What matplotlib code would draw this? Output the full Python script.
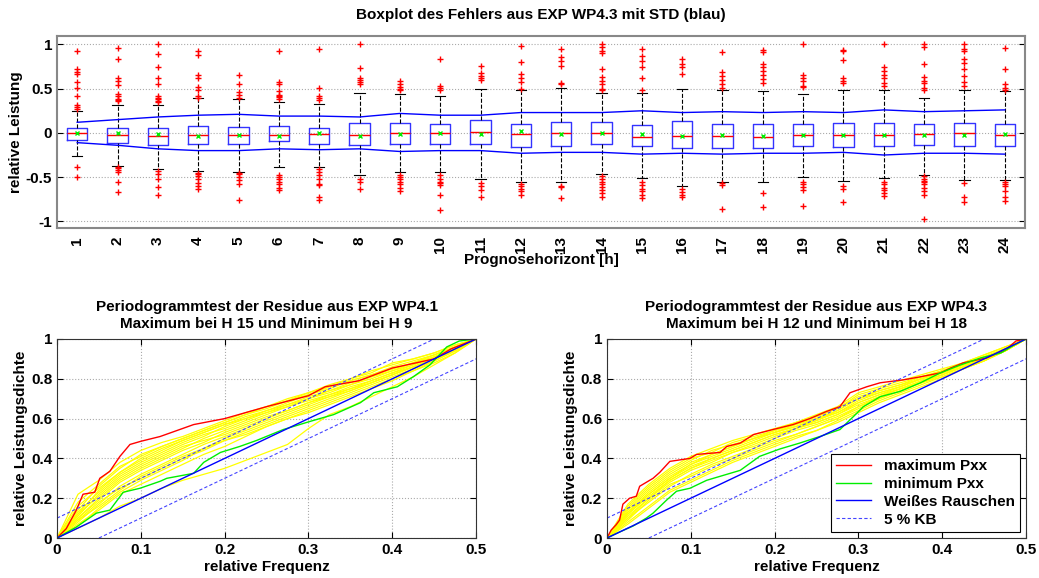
import numpy as np
import matplotlib
matplotlib.use('Agg')
import matplotlib.pyplot as plt
from matplotlib.ticker import FuncFormatter

plt.rcParams['font.family'] = ['Liberation Sans', 'DejaVu Sans']
plt.rcParams['font.weight'] = 'bold'
plt.rcParams['axes.labelweight'] = 'bold'
plt.rcParams['axes.titleweight'] = 'bold'

# ---- boxplot data (relative error per forecast hour) ----
hours = list(range(1, 25))
q1 = [-0.08, -0.11, -0.14, -0.13, -0.13, -0.09, -0.12, -0.14, -0.12, -0.12, -0.12, -0.16,
      -0.15, -0.13, -0.15, -0.17, -0.17, -0.17, -0.15, -0.16, -0.15, -0.14, -0.15, -0.15]
med = [0.00, -0.02, -0.03, -0.02, -0.02, -0.02, -0.01, -0.02, 0.00, 0.00, 0.01, -0.01,
       0.00, 0.00, -0.05, -0.03, -0.03, -0.05, -0.02, -0.02, -0.02, -0.01, 0.00, -0.02]
q3 = [0.05, 0.06, 0.05, 0.08, 0.07, 0.08, 0.06, 0.11, 0.11, 0.10, 0.15, 0.10,
      0.12, 0.12, 0.09, 0.14, 0.10, 0.10, 0.10, 0.11, 0.11, 0.10, 0.11, 0.10]
mean = [0.00, 0.00, -0.01, -0.03, -0.02, -0.03, 0.00, -0.03, -0.01, 0.00, -0.01, 0.02,
        -0.01, 0.00, -0.01, -0.03, -0.02, -0.03, -0.02, -0.02, -0.02, -0.02, -0.02, -0.01]
whis_hi = [0.25, 0.31, 0.32, 0.39, 0.38, 0.35, 0.33, 0.45, 0.44, 0.42, 0.50, 0.49,
           0.51, 0.45, 0.45, 0.50, 0.48, 0.47, 0.44, 0.49, 0.48, 0.39, 0.48, 0.47]
whis_lo = [-0.26, -0.37, -0.41, -0.43, -0.44, -0.38, -0.39, -0.48, -0.44, -0.44, -0.52, -0.55,
           -0.55, -0.47, -0.51, -0.60, -0.55, -0.56, -0.50, -0.54, -0.51, -0.48, -0.53, -0.53]
outliers = [
    [0.93, 0.72, 0.69, 0.67, 0.58, 0.51, 0.42, 0.31, 0.29, 0.27, -0.39, -0.50],
    [0.96, 0.83, 0.62, 0.59, 0.54, 0.44, 0.42, 0.38, 0.37, 0.36, -0.38, -0.40, -0.42, -0.44, -0.55, -0.67],
    [1.00, 0.89, 0.74, 0.62, 0.55, 0.42, 0.40, 0.38, 0.36, 0.35, -0.43, -0.47, -0.52, -0.61, -0.70],
    [0.93, 0.88, 0.65, 0.62, 0.52, 0.48, 0.42, 0.40, -0.45, -0.47, -0.49, -0.52, -0.57, -0.60, -0.63],
    [0.66, 0.55, 0.46, 0.43, 0.40, -0.45, -0.47, -0.50, -0.53, -0.58, -0.76],
    [0.93, 0.58, 0.55, 0.47, 0.43, 0.42, 0.41, 0.38, -0.48, -0.50, -0.52, -0.55, -0.58, -0.62, -0.65],
    [0.95, 0.51, 0.42, 0.39, 0.37, -0.41, -0.44, -0.48, -0.52, -0.58, -0.59, -0.73, -0.76],
    [1.00, 0.73, 0.62, 0.60, 0.58, 0.55, -0.52, -0.56, -0.63],
    [0.59, 0.55, 0.52, 0.50, 0.48, -0.48, -0.50, -0.52, -0.55, -0.58, -0.62, -0.66],
    [0.84, 0.53, 0.51, 0.49, -0.48, -0.52, -0.55, -0.57, -0.59, -0.70, -0.87],
    [0.76, 0.68, 0.64, 0.62, 0.60, -0.57, -0.60, -0.64, -0.72],
    [0.98, 0.80, 0.67, 0.62, 0.58, 0.50, -0.58, -0.60, -0.63, -0.66, -0.70],
    [0.95, 0.86, 0.81, 0.76, 0.56, 0.55, -0.60, -0.61, -0.74],
    [1.00, 0.97, 0.93, 0.90, 0.72, 0.63, 0.59, 0.55, 0.50, 0.49, -0.49, -0.52, -0.55, -0.58, -0.61, -0.64, -0.68, -0.72],
    [0.95, 0.87, 0.81, 0.74, 0.62, 0.48, -0.56, -0.59, -0.63, -0.66, -0.70, -0.74],
    [0.83, 0.78, 0.75, 0.67, -0.63, -0.67, -0.70, -0.73],
    [0.91, 0.69, 0.64, 0.60, 0.55, 0.51, -0.57, -0.59, -0.86],
    [0.94, 0.91, 0.78, 0.74, 0.70, 0.65, 0.61, 0.56, -0.68, -0.84],
    [1.00, 0.65, 0.62, 0.59, 0.53, 0.52, -0.55, -0.58, -0.61, -0.64, -0.83],
    [0.94, 0.92, 0.82, 0.62, 0.59, 0.56, -0.60, -0.63, -0.78],
    [1.00, 0.74, 0.70, 0.66, 0.62, 0.56, 0.53, -0.56, -0.58, -0.62, -0.65, -0.68, -0.71],
    [1.00, 0.97, 0.78, 0.63, 0.59, 0.56, 0.51, 0.49, -0.49, -0.52, -0.54, -0.56, -0.58, -0.62, -0.66, -0.70, -0.97],
    [1.00, 0.95, 0.92, 0.84, 0.79, 0.72, 0.64, 0.58, 0.53, -0.57, -0.72, -0.78],
    [0.96, 0.72, 0.55, 0.51, 0.49, -0.55, -0.58, -0.60, -0.66, -0.72, -0.77],
]
std_up = [0.12, 0.15, 0.18, 0.20, 0.21, 0.19, 0.19, 0.18, 0.22, 0.20, 0.20, 0.23,
          0.23, 0.23, 0.25, 0.23, 0.24, 0.23, 0.24, 0.23, 0.26, 0.24, 0.25, 0.26]
std_lo = [-0.11, -0.14, -0.18, -0.20, -0.20, -0.18, -0.19, -0.18, -0.21, -0.20, -0.20, -0.23,
          -0.22, -0.22, -0.24, -0.23, -0.24, -0.23, -0.23, -0.22, -0.25, -0.23, -0.23, -0.24]

# ---- periodogram data ----
# left panel (EXP WP4.1)
l_max_x = [0, 0.011, 0.023, 0.031, 0.045, 0.051, 0.063, 0.075, 0.087, 0.1, 0.123, 0.163, 0.2,
           0.25, 0.3, 0.32, 0.36, 0.4, 0.45, 0.47, 0.5]
l_max_y = [0, 0.047, 0.14, 0.22, 0.23, 0.30, 0.335, 0.41, 0.47, 0.486, 0.51, 0.57, 0.60,
           0.66, 0.715, 0.76, 0.79, 0.854, 0.90, 0.95, 1.0]
l_min_x = [0, 0.023, 0.047, 0.063, 0.079, 0.099, 0.123, 0.131, 0.163, 0.175, 0.195, 0.218, 0.238,
           0.27, 0.302, 0.33, 0.362, 0.378, 0.406, 0.425, 0.445, 0.465, 0.48, 0.5]
l_min_y = [0, 0.055, 0.125, 0.14, 0.23, 0.25, 0.285, 0.30, 0.325, 0.38, 0.43, 0.46, 0.49,
           0.545, 0.586, 0.62, 0.68, 0.73, 0.76, 0.81, 0.87, 0.96, 0.99, 1.0]
# right panel (EXP WP4.3)
r_max_x = [0, 0.005, 0.011, 0.015, 0.019, 0.027, 0.035, 0.039, 0.055, 0.063, 0.075, 0.099, 0.107,
           0.135, 0.143, 0.159, 0.175, 0.198, 0.222, 0.242, 0.262, 0.278, 0.29, 0.31, 0.326,
           0.354, 0.374, 0.398, 0.41, 0.425, 0.453, 0.476, 0.488, 0.5]
r_max_y = [0, 0.04, 0.067, 0.09, 0.17, 0.20, 0.21, 0.26, 0.30, 0.33, 0.385, 0.40, 0.42,
           0.43, 0.46, 0.477, 0.52, 0.545, 0.57, 0.60, 0.636, 0.66, 0.73, 0.76, 0.78,
           0.795, 0.81, 0.83, 0.854, 0.88, 0.905, 0.946, 0.99, 1.0]
r_min_x = [0, 0.015, 0.031, 0.047, 0.055, 0.071, 0.083, 0.099, 0.119, 0.143, 0.159, 0.182, 0.206,
           0.23, 0.254, 0.278, 0.294, 0.306, 0.326, 0.35, 0.374, 0.398, 0.422, 0.446, 0.47,
           0.486, 0.5]
r_min_y = [0, 0.03, 0.06, 0.10, 0.125, 0.19, 0.235, 0.25, 0.29, 0.32, 0.34, 0.41, 0.447,
           0.477, 0.51, 0.545, 0.61, 0.66, 0.71, 0.737, 0.78, 0.83, 0.87, 0.905, 0.93,
           0.97, 1.0]

freq = [0, 0.025, 0.05, 0.075, 0.1, 0.125, 0.15, 0.175, 0.2, 0.225, 0.25,
        0.275, 0.3, 0.325, 0.35, 0.375, 0.4, 0.425, 0.45, 0.475, 0.5]
l_yellow = [
    [0, .12, .24, .33, .39, .44, .49, .53, .57, .61, .64, .67, .70, .74, .77, .80, .84, .87, .91, .95, 1],
    [0, .10, .20, .29, .35, .40, .45, .50, .54, .58, .62, .66, .69, .72, .76, .79, .83, .86, .90, .95, 1],
    [0, .14, .26, .35, .42, .46, .50, .54, .58, .62, .65, .69, .72, .75, .79, .82, .86, .89, .92, .96, 1],
    [0, .08, .17, .26, .32, .37, .42, .47, .51, .55, .59, .63, .67, .71, .74, .78, .82, .86, .90, .95, 1],
    [0, .09, .18, .25, .30, .35, .40, .44, .49, .53, .57, .61, .65, .69, .73, .77, .81, .85, .89, .94, 1],
    [0, .22, .29, .38, .44, .48, .51, .55, .59, .63, .66, .69, .73, .77, .80, .83, .88, .90, .93, .97, 1],
    [0, .11, .22, .31, .37, .42, .47, .51, .56, .60, .63, .66, .70, .73, .77, .81, .84, .88, .92, .96, 1],
    [0, .07, .14, .22, .27, .32, .37, .42, .46, .51, .56, .60, .64, .68, .72, .76, .80, .84, .89, .94, 1],
    [0, .05, .10, .16, .20, .25, .29, .32, .35, .39, .43, .47, .55, .62, .66, .71, .76, .81, .87, .93, 1],
    [0, .13, .23, .32, .38, .43, .48, .52, .55, .59, .63, .67, .71, .74, .78, .81, .85, .88, .91, .95, 1],
    [0, .16, .25, .33, .40, .45, .49, .53, .57, .60, .64, .68, .72, .76, .79, .82, .85, .88, .92, .96, 1],
    [0, .10, .19, .28, .34, .39, .44, .48, .53, .57, .61, .64, .68, .72, .75, .79, .83, .87, .91, .95, 1],
    [0, .12, .21, .30, .36, .41, .46, .49, .52, .56, .60, .64, .68, .71, .75, .78, .82, .86, .90, .95, 1],
    [0, .09, .16, .24, .31, .36, .41, .45, .50, .54, .58, .62, .66, .70, .74, .78, .82, .86, .90, .94, 1],
    [0, .18, .27, .36, .41, .46, .50, .54, .58, .62, .66, .70, .73, .76, .80, .84, .87, .90, .93, .97, 1],
    [0, .06, .15, .23, .29, .34, .39, .45, .49, .52, .56, .60, .63, .67, .71, .75, .79, .84, .88, .93, 1],
]
r_yellow = [
    [0, .14, .24, .32, .38, .42, .46, .50, .53, .56, .60, .64, .70, .74, .77, .80, .83, .86, .90, .95, 1],
    [0, .12, .21, .29, .35, .40, .44, .48, .52, .55, .58, .62, .68, .72, .75, .79, .82, .86, .90, .94, 1],
    [0, .16, .26, .34, .40, .43, .48, .51, .54, .58, .61, .65, .72, .75, .78, .81, .84, .87, .91, .95, 1],
    [0, .10, .18, .26, .32, .37, .41, .45, .49, .52, .56, .60, .66, .70, .74, .78, .82, .86, .90, .94, 1],
    [0, .08, .16, .24, .29, .34, .39, .43, .47, .51, .54, .59, .64, .69, .73, .77, .81, .85, .89, .94, 1],
    [0, .13, .23, .31, .37, .41, .45, .49, .53, .57, .60, .63, .69, .73, .76, .80, .83, .87, .91, .95, 1],
    [0, .11, .20, .28, .34, .38, .43, .47, .51, .55, .58, .62, .67, .71, .75, .79, .83, .87, .90, .94, 1],
    [0, .15, .25, .33, .39, .44, .47, .50, .54, .57, .61, .65, .71, .74, .77, .81, .84, .87, .91, .95, 1],
    [0, .09, .19, .27, .31, .36, .40, .44, .48, .52, .56, .60, .65, .70, .74, .78, .82, .86, .90, .94, 1],
    [0, .12, .22, .30, .36, .40, .44, .48, .52, .55, .59, .63, .68, .72, .76, .80, .84, .87, .91, .95, 1],
    [0, .07, .15, .23, .28, .33, .38, .42, .46, .50, .54, .58, .63, .68, .72, .76, .80, .85, .89, .94, 1],
    [0, .17, .27, .35, .41, .45, .49, .52, .55, .58, .62, .66, .73, .76, .79, .82, .85, .88, .92, .96, 1],
    [0, .10, .20, .29, .35, .39, .43, .46, .50, .54, .57, .61, .66, .71, .75, .78, .81, .85, .89, .94, 1],
    [0, .13, .22, .30, .37, .42, .46, .50, .53, .56, .59, .64, .70, .73, .76, .80, .84, .88, .92, .96, 1],
]

titles = ['Periodogrammtest der Residue aus EXP WP4.1\nMaximum bei H 15 und Minimum bei H 9',
          'Periodogrammtest der Residue aus EXP WP4.3\nMaximum bei H 12 und Minimum bei H 18']

fig = plt.figure(figsize=(10.39, 5.78), dpi=100)

# ---------------- top: boxplot ----------------
ax = fig.add_axes([0.0549, 0.6055, 0.9316, 0.3322])
stats = []
for i in range(24):
    stats.append(dict(med=med[i], q1=q1[i], q3=q3[i], whislo=whis_lo[i], whishi=whis_hi[i],
                      fliers=outliers[i], mean=mean[i]))
ax.bxp(stats, positions=hours, widths=0.5, showmeans=True,
       boxprops=dict(color='#3333ff', linewidth=1),
       medianprops=dict(color='red', linewidth=1),
       whiskerprops=dict(color='black', linestyle='--', linewidth=0.8),
       capprops=dict(color='black', linewidth=0.8),
       flierprops=dict(marker='+', markeredgecolor='red', markersize=5, linestyle='none'),
       meanprops=dict(marker='x', markeredgecolor='#00ee00', markersize=3.5, linestyle='none'))
ax.plot(hours, std_up, color='blue', linewidth=1)
ax.plot(hours, std_lo, color='blue', linewidth=1)
ax.set_xlim(0.5, 24.5)
ax.set_ylim(-1.075, 1.095)
ax.set_yticks([-1, -0.5, 0, 0.5, 1])
ax.set_yticklabels(['-1', '-0.5', '0', '0.5', '1'])
ax.set_xticks(hours)
ax.set_xticklabels([str(h) for h in hours], rotation=90)
ax.tick_params(axis='both', labelsize=11, direction='in', right=True, length=4)
ax.tick_params(axis='x', length=0, pad=6)
ax.yaxis.grid(True, linestyle=':', color='#aaaaaa', linewidth=0.8)
for s in ax.spines.values():
    s.set_color('#888888')
    s.set_linewidth(1.5)
ax.set_xlabel('Prognosehorizont [h]', fontsize=11, labelpad=0)
ax.set_ylabel('relative Leistung', fontsize=11, labelpad=2)
ax.set_title('Boxplot des Fehlers aus EXP WP4.3 mit STD (blau)', fontsize=11, pad=12)

# ---------------- bottom: periodogram tests ----------------
fmt = FuncFormatter(lambda v, p: '%g' % v)
panels = [
    (0.0549, l_yellow, l_max_x, l_max_y, l_min_x, l_min_y, titles[0]),
    (0.5842, r_yellow, r_max_x, r_max_y, r_min_x, r_min_y, titles[1]),
]
for k, (left, yel, mx, my, nx, ny, ttl) in enumerate(panels):
    a = fig.add_axes([left, 0.0692, 0.4033, 0.3443])
    for yl in yel:
        a.plot(freq, yl, color='#ffff00', linewidth=0.9)
    h1, = a.plot(mx, my, color='red', linewidth=1, label='maximum Pxx')
    h2, = a.plot(nx, ny, color='#00ee00', linewidth=1, label='minimum Pxx')
    h3, = a.plot([0, 0.5], [0, 1], color='blue', linewidth=1, label='Weißes Rauschen')
    h4, = a.plot([0, 0.45], [0.1, 1], color='#4444ff', linestyle='--', dashes=(3, 2),
                 linewidth=0.8, label='5 % KB')
    a.plot([0.05, 0.5], [0, 0.9], color='#4444ff', linestyle='--', dashes=(3, 2), linewidth=0.8)
    a.set_xlim(0, 0.5)
    a.set_ylim(0, 1)
    a.set_xticks([0, 0.1, 0.2, 0.3, 0.4, 0.5])
    a.set_yticks([0, 0.2, 0.4, 0.6, 0.8, 1])
    a.xaxis.set_major_formatter(fmt)
    a.yaxis.set_major_formatter(fmt)
    a.grid(True, linestyle=':', color='#aaaaaa', linewidth=0.8)
    a.set_axisbelow(True)
    a.tick_params(axis='both', labelsize=11, direction='in', top=True, right=True, length=4)
    for s in a.spines.values():
        s.set_color('#333333')
    a.set_xlabel('relative Frequenz', fontsize=11, labelpad=2)
    a.set_ylabel('relative Leistungsdichte', fontsize=11, labelpad=2)
    a.set_title(ttl, fontsize=11, pad=8, linespacing=1.25)
    if k == 1:
        leg = a.legend(handles=[h1, h2, h3, h4], loc='lower right', fontsize=11,
                       fancybox=False, edgecolor='black', framealpha=1,
                       handlelength=2.3, labelspacing=0.25, borderpad=0.35,
                       borderaxespad=0.4)
        leg.get_frame().set_linewidth(0.8)

fig.savefig('out.png', dpi=100)
